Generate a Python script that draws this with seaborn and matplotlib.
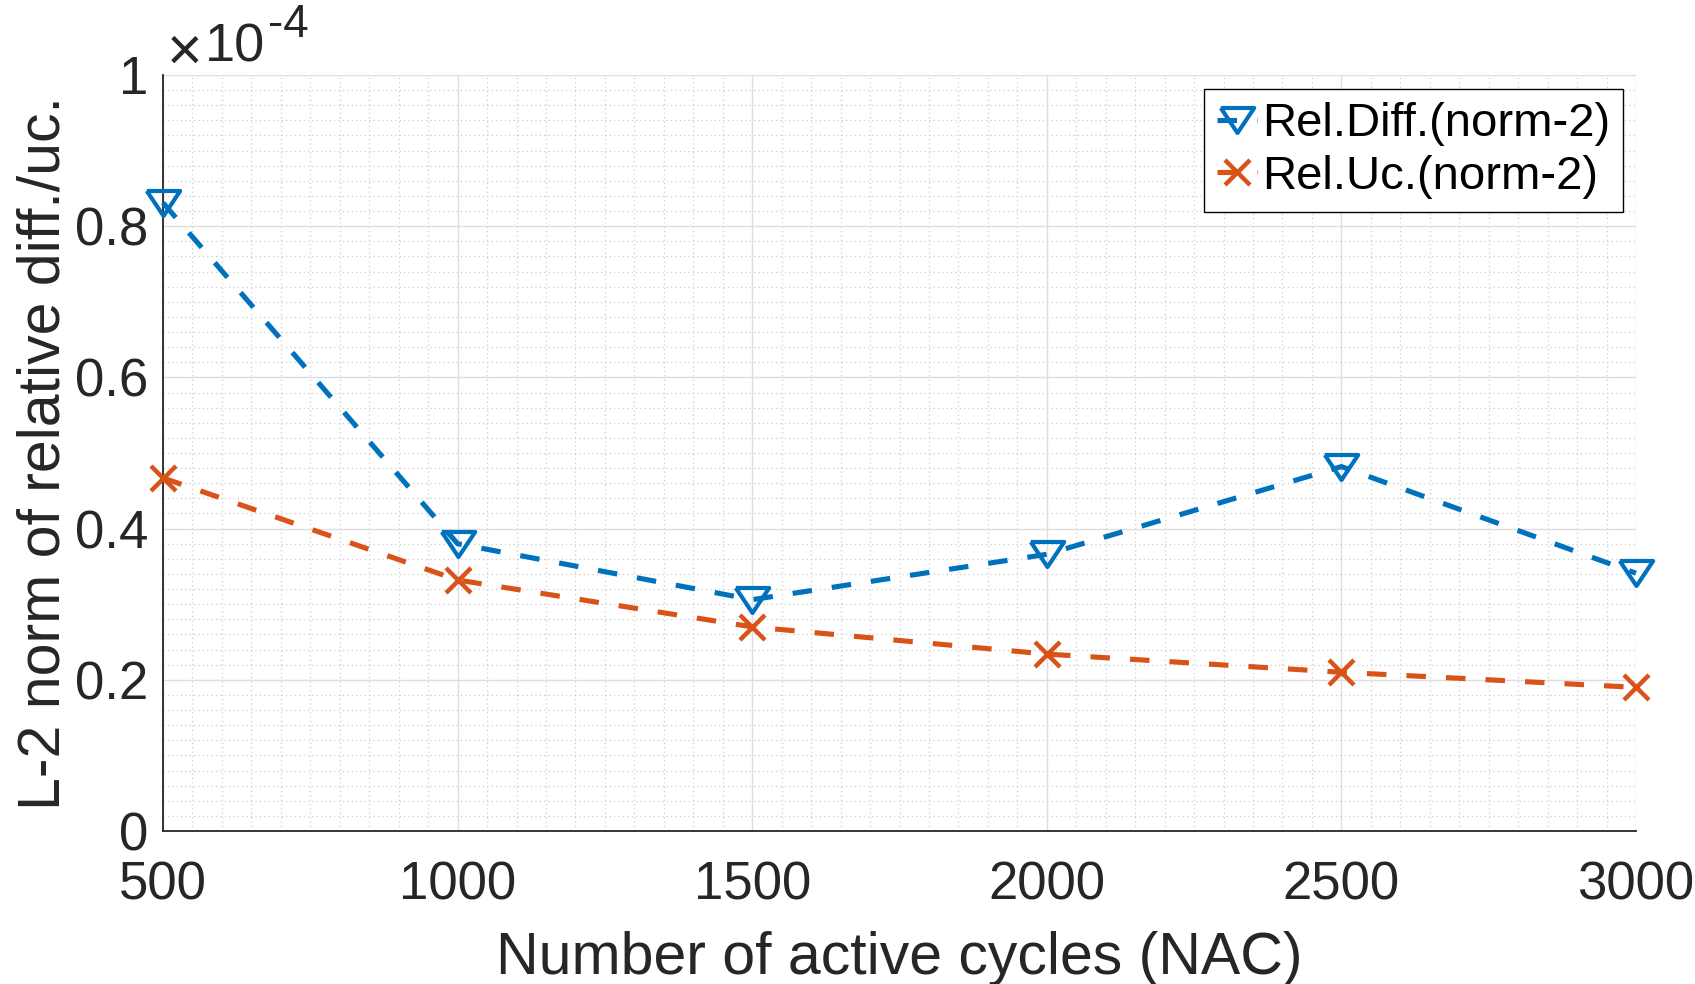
import matplotlib
matplotlib.use("Agg")
import matplotlib.pyplot as plt
from matplotlib.ticker import MultipleLocator, FixedLocator, FixedFormatter
import seaborn as sns
import pandas as pd

# ---- data (y values in units of 1e-4) ----
nac = [500, 1000, 1500, 2000, 2500, 3000]
rel_diff = [0.831, 0.380, 0.306, 0.366, 0.482, 0.341]
rel_uc = [0.467, 0.332, 0.270, 0.234, 0.210, 0.190]
series_labels = ["Rel.Diff.(norm-2)", "Rel.Uc.(norm-2)"]
xticks = [500, 1000, 1500, 2000, 2500, 3000]
yticks = [0, 0.2, 0.4, 0.6, 0.8, 1.0]
ytick_labels = ["0", "0.2", "0.4", "0.6", "0.8", "1"]
xlabel = "Number of active cycles (NAC)"
ylabel = "L-2 norm of relative diff./uc."

sns.set_style("white")
plt.rcParams["font.family"] = ["Liberation Sans", "DejaVu Sans"]

BLUE = "#0072BD"
ORANGE = "#D95319"
DARK = "#262626"

fig = plt.figure(figsize=(16.95, 9.84), dpi=100)
W, H = 1695, 984
ax = fig.add_axes([163 / W, (H - 831) / H, (1636 - 163) / W, (831 - 75) / H])

df = pd.DataFrame({"nac": nac, "diff": rel_diff, "uc": rel_uc})

tri = [(-1, 0.75), (1, 0.75), (0, -0.75), (-1, 0.75)]
sns.lineplot(data=df, x="nac", y="diff", ax=ax, color=BLUE, lw=3.7,
             linestyle=(0, (3.8, 3.9)), marker=tri, markersize=24,
             markerfacecolor="none", markeredgecolor=BLUE, markeredgewidth=3.0,
             label=series_labels[0], errorbar=None, sort=False, zorder=3,
             clip_on=False)
sns.lineplot(data=df, x="nac", y="uc", ax=ax, color=ORANGE, lw=3.7,
             linestyle=(0, (3.8, 3.9)), marker="x", markersize=18,
             markeredgecolor=ORANGE, markeredgewidth=3.2,
             label=series_labels[1], errorbar=None, sort=False, zorder=3,
             clip_on=False)

ax.set_xlim(500, 3000)
ax.set_ylim(0, 1.0)
ax.xaxis.set_major_locator(FixedLocator(xticks))
ax.xaxis.set_minor_locator(MultipleLocator(50))
ax.yaxis.set_major_locator(FixedLocator(yticks))
ax.yaxis.set_major_formatter(FixedFormatter(ytick_labels))
ax.yaxis.set_minor_locator(MultipleLocator(0.02))

ax.grid(which="major", color="#dedede", lw=1.0, ls="-", zorder=0)
ax.grid(which="minor", color="#cccccc", lw=0.9, ls=(0, (1, 2.5)), zorder=0)
ax.set_axisbelow(True)

for s in ["top", "right"]:
    ax.spines[s].set_visible(False)
for s in ["left", "bottom"]:
    ax.spines[s].set_color(DARK)
    ax.spines[s].set_linewidth(1.3)

ax.tick_params(axis="x", which="major", direction="in", length=9.5, width=1.1,
               color=DARK, labelcolor=DARK, labelsize=38, pad=21)
ax.tick_params(axis="y", which="major", direction="in", length=9.5, width=1.1,
               color=DARK, labelcolor=DARK, labelsize=38, pad=10.5)
ax.tick_params(which="minor", length=0)

ax.set_xlabel(xlabel, fontsize=42.5, color=DARK)
ax.set_ylabel(ylabel, fontsize=42.5, color=DARK)
ax.xaxis.set_label_coords(0.5, (831 - 931) / 756)
ax.yaxis.set_label_coords((72 - 163) / 1473, 0.5)

# exponent label
fig.text(167 / W, 1 - 70 / H, "\u00d7", fontsize=44, color=DARK, va="baseline", ha="left")
fig.text(205 / W, 1 - 62 / H, "10", fontsize=39, color=DARK, va="baseline", ha="left")
fig.text(268 / W, 1 - 37 / H, "-4", fontsize=33, color=DARK, va="baseline", ha="left")

leg = ax.legend(loc="upper right", bbox_to_anchor=((1623 - 163) / 1473, (831 - 89) / 756),
                borderaxespad=0, fontsize=34, frameon=True, fancybox=False,
                framealpha=1, edgecolor="black", handlelength=0.85,
                handletextpad=0.1, borderpad=0.28, labelspacing=0.18)
leg.get_frame().set_linewidth(1.0)
for t in leg.get_texts():
    t.set_color("black")

fig.savefig("out.png", dpi=100, facecolor="white")
